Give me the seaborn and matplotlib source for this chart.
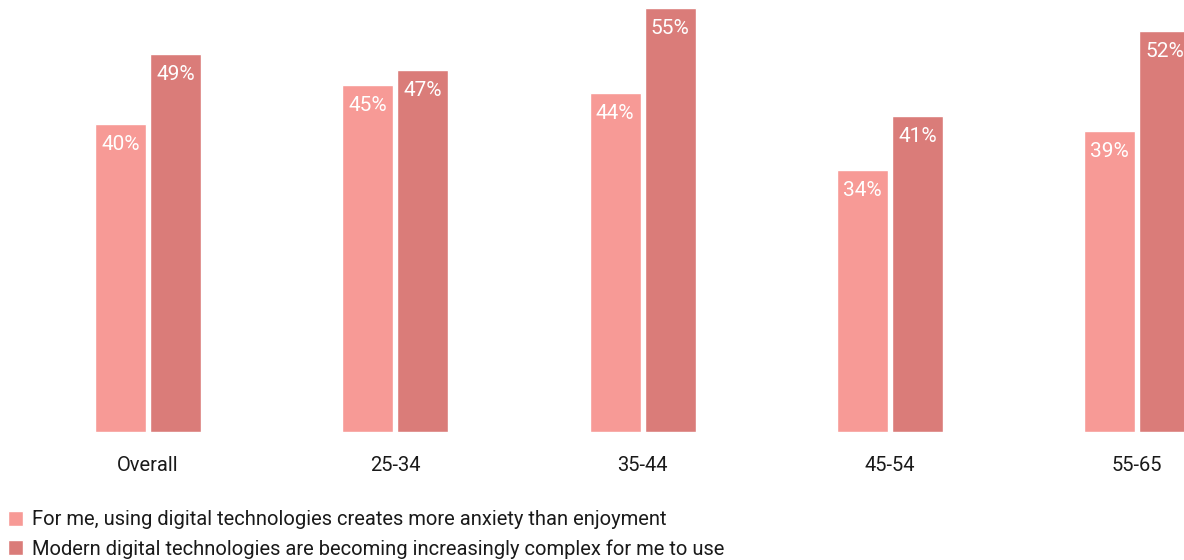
import matplotlib
matplotlib.use("Agg")
import matplotlib.pyplot as plt
import seaborn as sns
import pandas as pd

categories = ["Overall", "25-34", "35-44", "45-54", "55-65"]
series_names = [
    "For me, using digital technologies creates more anxiety than enjoyment",
    "Modern digital technologies are becoming increasingly complex for me to use",
]
anxiety = [40, 45, 44, 34, 39]
complexity = [49, 47, 55, 41, 52]
colors = ["#F79A96", "#DA7C79"]

rows = []
for c, a, b in zip(categories, anxiety, complexity):
    rows.append({"group": c, "series": series_names[0], "value": a})
    rows.append({"group": c, "series": series_names[1], "value": b})
df = pd.DataFrame(rows)

sns.set_theme(style="white")
plt.rcParams["font.family"] = ["Roboto", "DejaVu Sans"]

fig = plt.figure(figsize=(11.84, 5.6), dpi=100)
ax = fig.add_axes([0.0, (560 - 432) / 560, 1.0, (432 - 8) / 560])

sns.barplot(data=df, x="group", y="value", hue="series", order=categories,
            hue_order=series_names, palette=colors, width=0.445, gap=0.073,
            saturation=1, ax=ax, legend=True)

ax.set_xlim(-0.598, 4.189)
ax.set_ylim(0, 55)
for s in ax.spines.values():
    s.set_visible(False)
ax.set_yticks([])
ax.set_xlabel("")
ax.set_ylabel("")
ax.tick_params(axis="x", length=0, pad=17, labelsize=14.5, labelcolor="#1a1a1a")

for cont in ax.containers:
    for bar in cont:
        h = bar.get_height()
        ax.annotate(f"{h:.0f}%", (bar.get_x() + bar.get_width() / 2, h),
                    xytext=(0, -18.7), textcoords="offset points",
                    ha="center", va="baseline", color="white", fontsize=15)

leg = ax.get_legend()
handles = leg.legend_handles
leg.remove()
fig.legend(handles, series_names, loc="upper left", bbox_to_anchor=(0.0068, 0.089),
           frameon=False, fontsize=14.5, handlelength=0.75, handleheight=0.75,
           handletextpad=0.45, labelspacing=0.5, borderaxespad=0, borderpad=0,
           labelcolor="#1a1a1a")

fig.savefig("out.png", dpi=100)
